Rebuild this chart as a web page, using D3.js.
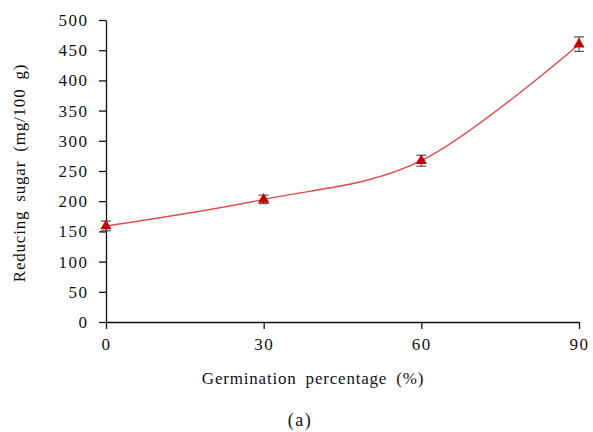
<!DOCTYPE html>
<html>
<head>
<meta charset="utf-8">
<script src="https://cdn.jsdelivr.net/npm/d3@7"></script>
<style>
  body { margin: 0; background: #fff; }
  svg text { font-family: "Liberation Serif", "Times New Roman", serif; fill: #111; }
</style>
</head>
<body>
<div id="chart"></div>
<script>
// data
const germination = [0, 30, 60, 90];
const reducingSugar = [159, 203, 267, 460];
const errors = [8, 7, 9, 12];
const yTicks = [0, 50, 100, 150, 200, 250, 300, 350, 400, 450, 500];

const width = 593, height = 432;

const svg = d3.select('#chart').append('svg')
  .attr('width', width)
  .attr('height', height);

const x = d3.scaleLinear().domain([0, 90]).range([106, 579]);
const y = d3.scaleLinear().domain([0, 500]).range([322, 20]);

// axes
const xAxis = svg.append('g')
  .attr('transform', `translate(0,${y(0)})`)
  .call(d3.axisBottom(x).tickValues(germination).tickSize(7).tickPadding(9).tickSizeOuter(0));
const yAxis = svg.append('g')
  .attr('transform', `translate(${x(0)},0)`)
  .call(d3.axisLeft(y).tickValues(yTicks).tickSize(7).tickPadding(12).tickSizeOuter(0));

[xAxis, yAxis].forEach(a => {
  a.selectAll('path, line').attr('stroke', '#111').attr('stroke-width', 1.3);
  a.selectAll('text')
    .style('font-size', '17px')
    .style('letter-spacing', '1.5px')
    .attr('fill', '#111');
});
// letter spacing pushes right-anchored text, nudge back
yAxis.selectAll('text').attr('dx', '1.5px');

// smoothed line like the spreadsheet one
const line = d3.line()
  .x((d, i) => x(germination[i]))
  .y(d => y(d))
  .curve(d3.curveCatmullRom.alpha(0));

svg.append('path')
  .datum(reducingSugar)
  .attr('fill', 'none')
  .attr('stroke', '#e04848')
  .attr('stroke-width', 1.4)
  .attr('d', line);

// error bars
const eb = svg.append('g').attr('stroke', '#555').attr('stroke-width', 1.2);
reducingSugar.forEach((v, i) => {
  const cx = x(germination[i]);
  eb.append('line').attr('x1', cx).attr('x2', cx).attr('y1', y(v - errors[i])).attr('y2', y(v + errors[i]));
  eb.append('line').attr('x1', cx - 5).attr('x2', cx + 5).attr('y1', y(v + errors[i])).attr('y2', y(v + errors[i]));
  eb.append('line').attr('x1', cx - 5).attr('x2', cx + 5).attr('y1', y(v - errors[i])).attr('y2', y(v - errors[i]));
});

// triangle markers
const tri = d3.symbol().type(d3.symbolTriangle).size(55);
svg.append('g').selectAll('path')
  .data(reducingSugar)
  .join('path')
  .attr('d', tri)
  .attr('transform', (d, i) => `translate(${x(germination[i])},${y(d)})`)
  .attr('fill', '#c00000');

// titles
svg.append('text')
  .attr('x', 313).attr('y', 384)
  .attr('text-anchor', 'middle')
  .style('font-size', '17px')
  .style('letter-spacing', '0.8px')
  .style('word-spacing', '4px')
  .text('Germination percentage (%)');

svg.append('text')
  .attr('transform', 'translate(25,173) rotate(-90)')
  .attr('text-anchor', 'middle')
  .style('font-size', '17px')
  .style('letter-spacing', '0.8px')
  .style('word-spacing', '4px')
  .text('Reducing sugar (mg/100 g)');

svg.append('text')
  .attr('x', 300).attr('y', 426)
  .attr('text-anchor', 'middle')
  .style('font-size', '18px')
  .style('letter-spacing', '1.5px')
  .text('(a)');
</script>
</body>
</html>
